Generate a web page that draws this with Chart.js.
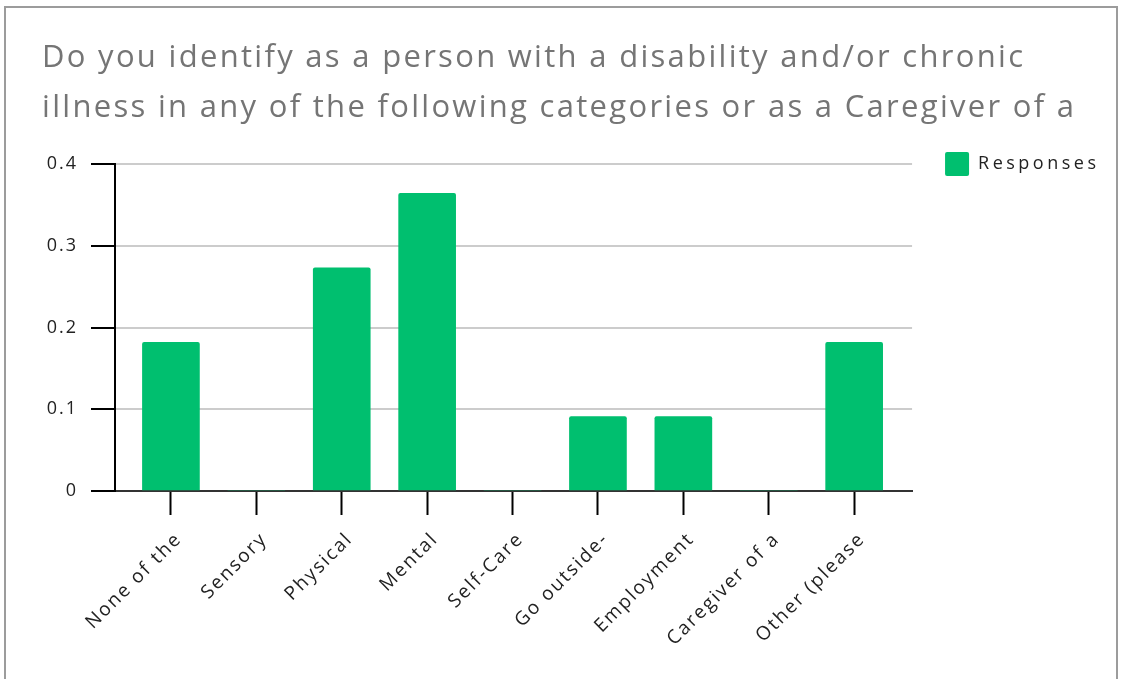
<!DOCTYPE html>
<html lang="en">
<head>
<meta charset="utf-8">
<title>Disability / chronic illness categories</title>
<style>
  body { margin: 0; background: #fff; overflow: hidden; }
  #frame { position: absolute; left: 4px; top: 6px; width: 1114px; height: 720px;
           border: 2px solid #9c9c9c; border-bottom: none; box-sizing: border-box; }
  #heading { position: absolute; left: 42px; top: 30px; margin: 0;
             font-family: "Open Sans", sans-serif; font-weight: 400; font-size: 31px;
             letter-spacing: 2.3px; line-height: 50px; color: #757575; white-space: nowrap; }
  #wrap { position: absolute; left: 0; top: 0; width: 1121px; height: 679px; }
</style>
</head>
<body>
<div id="frame"></div>
<div id="wrap"><canvas id="graph"></canvas></div>
<h2 id="heading">Do you identify as a person with a disability and/or chronic<br>illness in any of the following categories or as a Caregiver of a</h2>

<script src="https://cdn.jsdelivr.net/npm/chart.js@4.4.1/dist/chart.umd.min.js"></script>
<script>
// answer categories (truncated the way the survey export shows them)
var categories = ['None of the', 'Sensory', 'Physical', 'Mental', 'Self-Care',
                  'Go outside-', 'Employment', 'Caregiver of a', 'Other (please'];
// share of respondents per category
var responses = [0.182, 0, 0.273, 0.364, 0, 0.091, 0.091, 0, 0.182];
var yTicks = [0, 0.1, 0.2, 0.3, 0.4];

var green = '#00bf6f';
var font = 'Open Sans';

// the export uses spaced-out labels, canvas needs it set by hand
var spacing = {
  id: 'spacing',
  afterInit: function (chart) {
    // legend text is spaced out a bit more than the axis labels
    var lg = chart.legend, draw = lg.draw;
    lg.draw = function () {
      var c = this.ctx, old = c.letterSpacing;
      c.letterSpacing = '3.5px';
      draw.apply(this, arguments);
      c.letterSpacing = old;
    };
  },
  beforeLayout: function (chart) { chart.ctx.letterSpacing = '2px'; },
  beforeDraw: function (chart) { chart.ctx.letterSpacing = '2px'; },
  // keep the legend box next to the top of the plot
  afterLayout: function (chart) {
    var lg = chart.legend, area = chart.chartArea;
    var w = lg.right - lg.left, h = lg.bottom - lg.top;
    lg.left = area.right + 23;
    lg.right = lg.left + w;
    lg.top = area.top - 22;
    lg.bottom = lg.top + h;
  }
};

var ctx = document.getElementById('graph').getContext('2d');
var chart = new Chart(ctx, {
  type: 'bar',
  data: {
    datasets: [{
      label: 'Responses',
      data: responses.map(function (v, i) { return { x: i, y: v }; }),
      backgroundColor: green,
      borderRadius: 2,
      barThickness: 57
    }]
  },
  plugins: [spacing],
  options: {
    responsive: true,
    maintainAspectRatio: false,
    animation: false,
    layout: { padding: { left: 42, top: 164, right: 48, bottom: 0 } },
    plugins: {
      title: { display: false },
      tooltip: { enabled: false },
      legend: {
        position: 'right',
        align: 'start',
        labels: {
          boxWidth: 24,
          boxHeight: 24,
          useBorderRadius: true,
          borderRadius: 2,
          padding: 10,
          color: '#222',
          font: { family: font, size: 18 }
        }
      }
    },
    scales: {
      x: {
        type: 'linear',
        offset: false,
        min: -0.655,
        max: 8.678,
        afterBuildTicks: function (s) {
          s.ticks = categories.map(function (c, i) { return { value: i }; });
        },
        afterFit: function (s) { s.height = 188; },
        ticks: {
          autoSkip: false,
          maxRotation: 45,
          minRotation: 45,
          padding: 13,
          labelOffset: 8,
          color: '#222',
          font: { family: font, size: 19 },
          callback: function (v) { return categories[v]; }
        },
        grid: {
          offset: false,
          drawOnChartArea: false,
          tickLength: 24,
          tickColor: '#000',
          tickWidth: 2
        },
        border: { color: '#333', width: 2 }
      },
      y: {
        min: yTicks[0],
        max: yTicks[yTicks.length - 1],
        afterFit: function (s) { s.width = 73; },
        afterBuildTicks: function (s) {
          s.ticks = yTicks.map(function (v) { return { value: v }; });
        },
        ticks: {
          padding: 13,
          color: '#222',
          font: { family: font, size: 18 }
        },
        grid: {
          color: '#cccccc',
          lineWidth: 2,
          tickColor: '#000',
          tickLength: 24,
          tickWidth: 2
        },
        border: { color: '#000', width: 2 }
      }
    }
  }
});
</script>
</body>
</html>
